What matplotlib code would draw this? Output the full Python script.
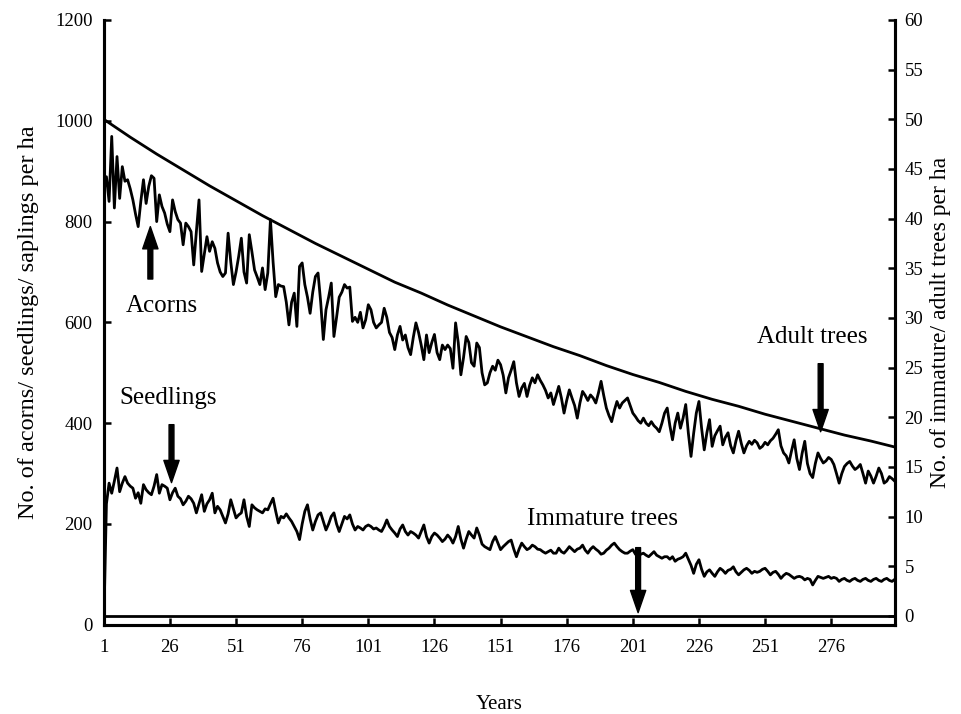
import matplotlib
matplotlib.use("Agg")
import matplotlib.pyplot as plt
import numpy as np

years = np.arange(1, 301)

# No. of acorns per ha (left axis), one value per year
acorns = [
    860, 889, 840, 969, 827, 929, 846, 909, 880, 883,
    865, 843, 815, 790, 840, 883, 836, 870, 891, 886,
    800, 853, 830, 817, 795, 780, 843, 820, 804, 797,
    754, 797, 790, 780, 714, 780, 843, 701, 735, 770,
    741, 760, 747, 718, 700, 691, 698, 777, 720, 675,
    700, 731, 767, 700, 678, 774, 740, 704, 690, 675,
    708, 665, 698, 804, 720, 651, 675, 672, 671, 640,
    595, 640, 658, 592, 711, 718, 675, 650, 618, 660,
    691, 698, 640, 566, 625, 650, 678, 572, 610, 650,
    660, 675, 668, 670, 602, 610, 600, 620, 589, 605,
    635, 625, 600, 589, 595, 600, 628, 610, 580, 570,
    546, 575, 592, 565, 575, 550, 536, 570, 599, 580,
    555, 526, 575, 540, 560, 576, 540, 526, 555, 546,
    555, 548, 509, 599, 560, 496, 530, 572, 560, 520,
    513, 559, 550, 500, 476, 480, 500, 513, 505, 525,
    516, 495, 460, 490, 505, 522, 480, 453, 470, 479,
    453, 475, 490, 480, 496, 485, 476, 465, 450, 460,
    437, 455, 473, 450, 420, 445, 466, 450, 435, 410,
    440, 463, 455, 445, 456, 450, 440, 460, 483, 455,
    430, 415, 403, 425, 443, 430, 440, 445, 450, 435,
    420, 413, 405, 400, 410, 400, 395, 403, 395, 390,
    383, 400, 420, 430, 395, 367, 400, 420, 390, 410,
    437, 380, 334, 380, 420, 443, 390, 347, 381, 407,
    354, 375, 385, 394, 357, 372, 381, 355, 341, 365,
    384, 360, 341, 355, 364, 358, 366, 361, 350, 354,
    362, 357, 365, 370, 378, 387, 355, 341, 335, 321,
    345, 367, 330, 308, 340, 364, 320, 300, 292, 320,
    341, 330, 321, 325, 332, 328, 318, 300, 281, 300,
    314, 320, 324, 315, 308, 312, 318, 300, 281, 305,
    295, 281, 295, 311, 300, 281, 285, 294, 290, 285,
]

# No. of seedlings per ha (left axis)
seedlings = [
    0, 240, 281, 261, 285, 311, 264, 281, 294, 281,
    275, 271, 251, 262, 241, 278, 268, 262, 258, 275,
    298, 261, 278, 275, 271, 248, 262, 271, 255, 250,
    238, 245, 255, 250, 241, 222, 240, 258, 225, 240,
    248, 261, 222, 235, 228, 215, 202, 220, 248, 230,
    212, 218, 222, 248, 215, 195, 238, 232, 228, 225,
    222, 230, 228, 240, 251, 225, 202, 215, 212, 220,
    212, 205, 195, 185, 169, 200, 225, 238, 210, 188,
    205, 218, 222, 205, 188, 200, 215, 222, 200, 185,
    200, 215, 210, 218, 200, 188, 195, 192, 188, 195,
    198, 195, 190, 192, 188, 185, 195, 208, 195, 188,
    182, 175, 190, 198, 185, 178, 185, 182, 178, 172,
    185, 198, 175, 162, 175, 182, 178, 172, 165, 170,
    178, 172, 162, 175, 195, 170, 152, 170, 185, 178,
    172, 192, 178, 160, 155, 152, 149, 165, 175, 162,
    149, 155, 160, 165, 168, 150, 135, 150, 162, 155,
    149, 152, 158, 155, 150, 149, 145, 142, 145, 148,
    142, 142, 152, 145, 142, 148, 155, 150, 145, 150,
    152, 158, 148, 142, 150, 155, 150, 146, 140, 142,
    148, 152, 158, 162, 155, 149, 145, 142, 142, 146,
    149, 140, 135, 140, 142, 138, 135, 140, 145, 138,
    135, 132, 135, 135, 130, 135, 126, 130, 132, 135,
    142, 130, 118, 102, 120, 129, 110, 96, 105, 109,
    102, 96, 105, 112, 108, 102, 108, 110, 115, 105,
    99, 104, 109, 112, 108, 102, 106, 104, 106, 110,
    112, 106, 99, 104, 106, 100, 92, 98, 102, 100,
    96, 92, 95, 96, 94, 89, 92, 90, 79, 88,
    96, 94, 92, 94, 96, 92, 94, 92, 86, 90,
    92, 88, 86, 90, 92, 88, 86, 90, 92, 88,
    86, 90, 92, 88, 86, 90, 92, 88, 86, 90,
]

# No. of adult trees per ha (right axis), read every 10 years
adult_years = [1, 11, 21, 31, 41, 51, 61, 71, 81, 91, 101, 111, 121, 131, 141,
               151, 161, 171, 181, 191, 201, 211, 221, 231, 241, 251, 261, 271,
               281, 291, 300]
adult_trees = [50.0, 48.2, 46.5, 44.9, 43.3, 41.8, 40.3, 38.9, 37.5, 36.2, 34.9,
               33.6, 32.5, 31.3, 30.2, 29.1, 28.1, 27.1, 26.2, 25.2, 24.3, 23.5,
               22.6, 21.8, 21.1, 20.3, 19.6, 18.9, 18.2, 17.6, 17.0]

# No. of immature trees per ha (right axis)
immature_years = [1, 300]
immature_trees = [0, 0]

xtick_labels = [1, 26, 51, 76, 101, 126, 151, 176, 201, 226, 251, 276]

plt.rcParams["font.family"] = ["Liberation Serif", "DejaVu Serif"]

fig = plt.figure(figsize=(9.61, 7.14), dpi=100)
ax = fig.add_axes([0.108, 0.125, 0.823, 0.847])
ax2 = ax.twinx()

lw = 2.0
ax.plot(years, acorns, color="black", lw=lw)
ax.plot(years, seedlings, color="black", lw=lw)
ax2.plot(adult_years, adult_trees, color="black", lw=lw)
ax2.plot(immature_years, immature_trees, color="black", lw=lw)

ax.set_xlim(1, 300)
ax.set_ylim(0, 1200)
ax2.set_ylim(-0.9, 60)
ax.set_xticks(xtick_labels)
ax.set_yticks(np.arange(0, 1201, 200))
ax2.set_yticks(np.arange(0, 61, 5))

for a in (ax, ax2):
    a.spines["top"].set_visible(False)
    for s in ("left", "right", "bottom"):
        a.spines[s].set_linewidth(2.2)
    a.tick_params(direction="in", length=5, width=1.8, labelsize=13.5, pad=8)
ax.tick_params(axis="x", pad=10)
ax2.tick_params(axis="y", pad=7)

ax.set_xlabel("Years", fontsize=15, labelpad=28)
ax.set_ylabel("No. of acorns/ seedlings/ saplings per ha", fontsize=17.5, labelpad=12)
ax2.set_ylabel("No. of immature/ adult trees per ha", fontsize=17, labelpad=5)

arrow = dict(facecolor="black", edgecolor="black", width=3.5, headwidth=11,
             headlength=16, shrink=0)
ax.annotate("", xy=(18.6, 790), xytext=(18.6, 686), arrowprops=arrow)
ax.annotate("", xy=(26.6, 282), xytext=(26.6, 397), arrowprops=arrow)
ax.annotate("", xy=(272, 383), xytext=(272, 518), arrowprops=arrow)
ax.annotate("", xy=(203, 24), xytext=(203, 153), arrowprops=arrow)

tkw = dict(fontsize=18, ha="center", va="center")
ax.text(23, 632, "Acorns", **tkw)
ax.text(25.5, 450, "Seedlings", **tkw)
ax.text(269, 571, "Adult trees", **tkw)
ax.text(189.5, 210, "Immature trees", **tkw)

fig.savefig("out.png", dpi=100)
